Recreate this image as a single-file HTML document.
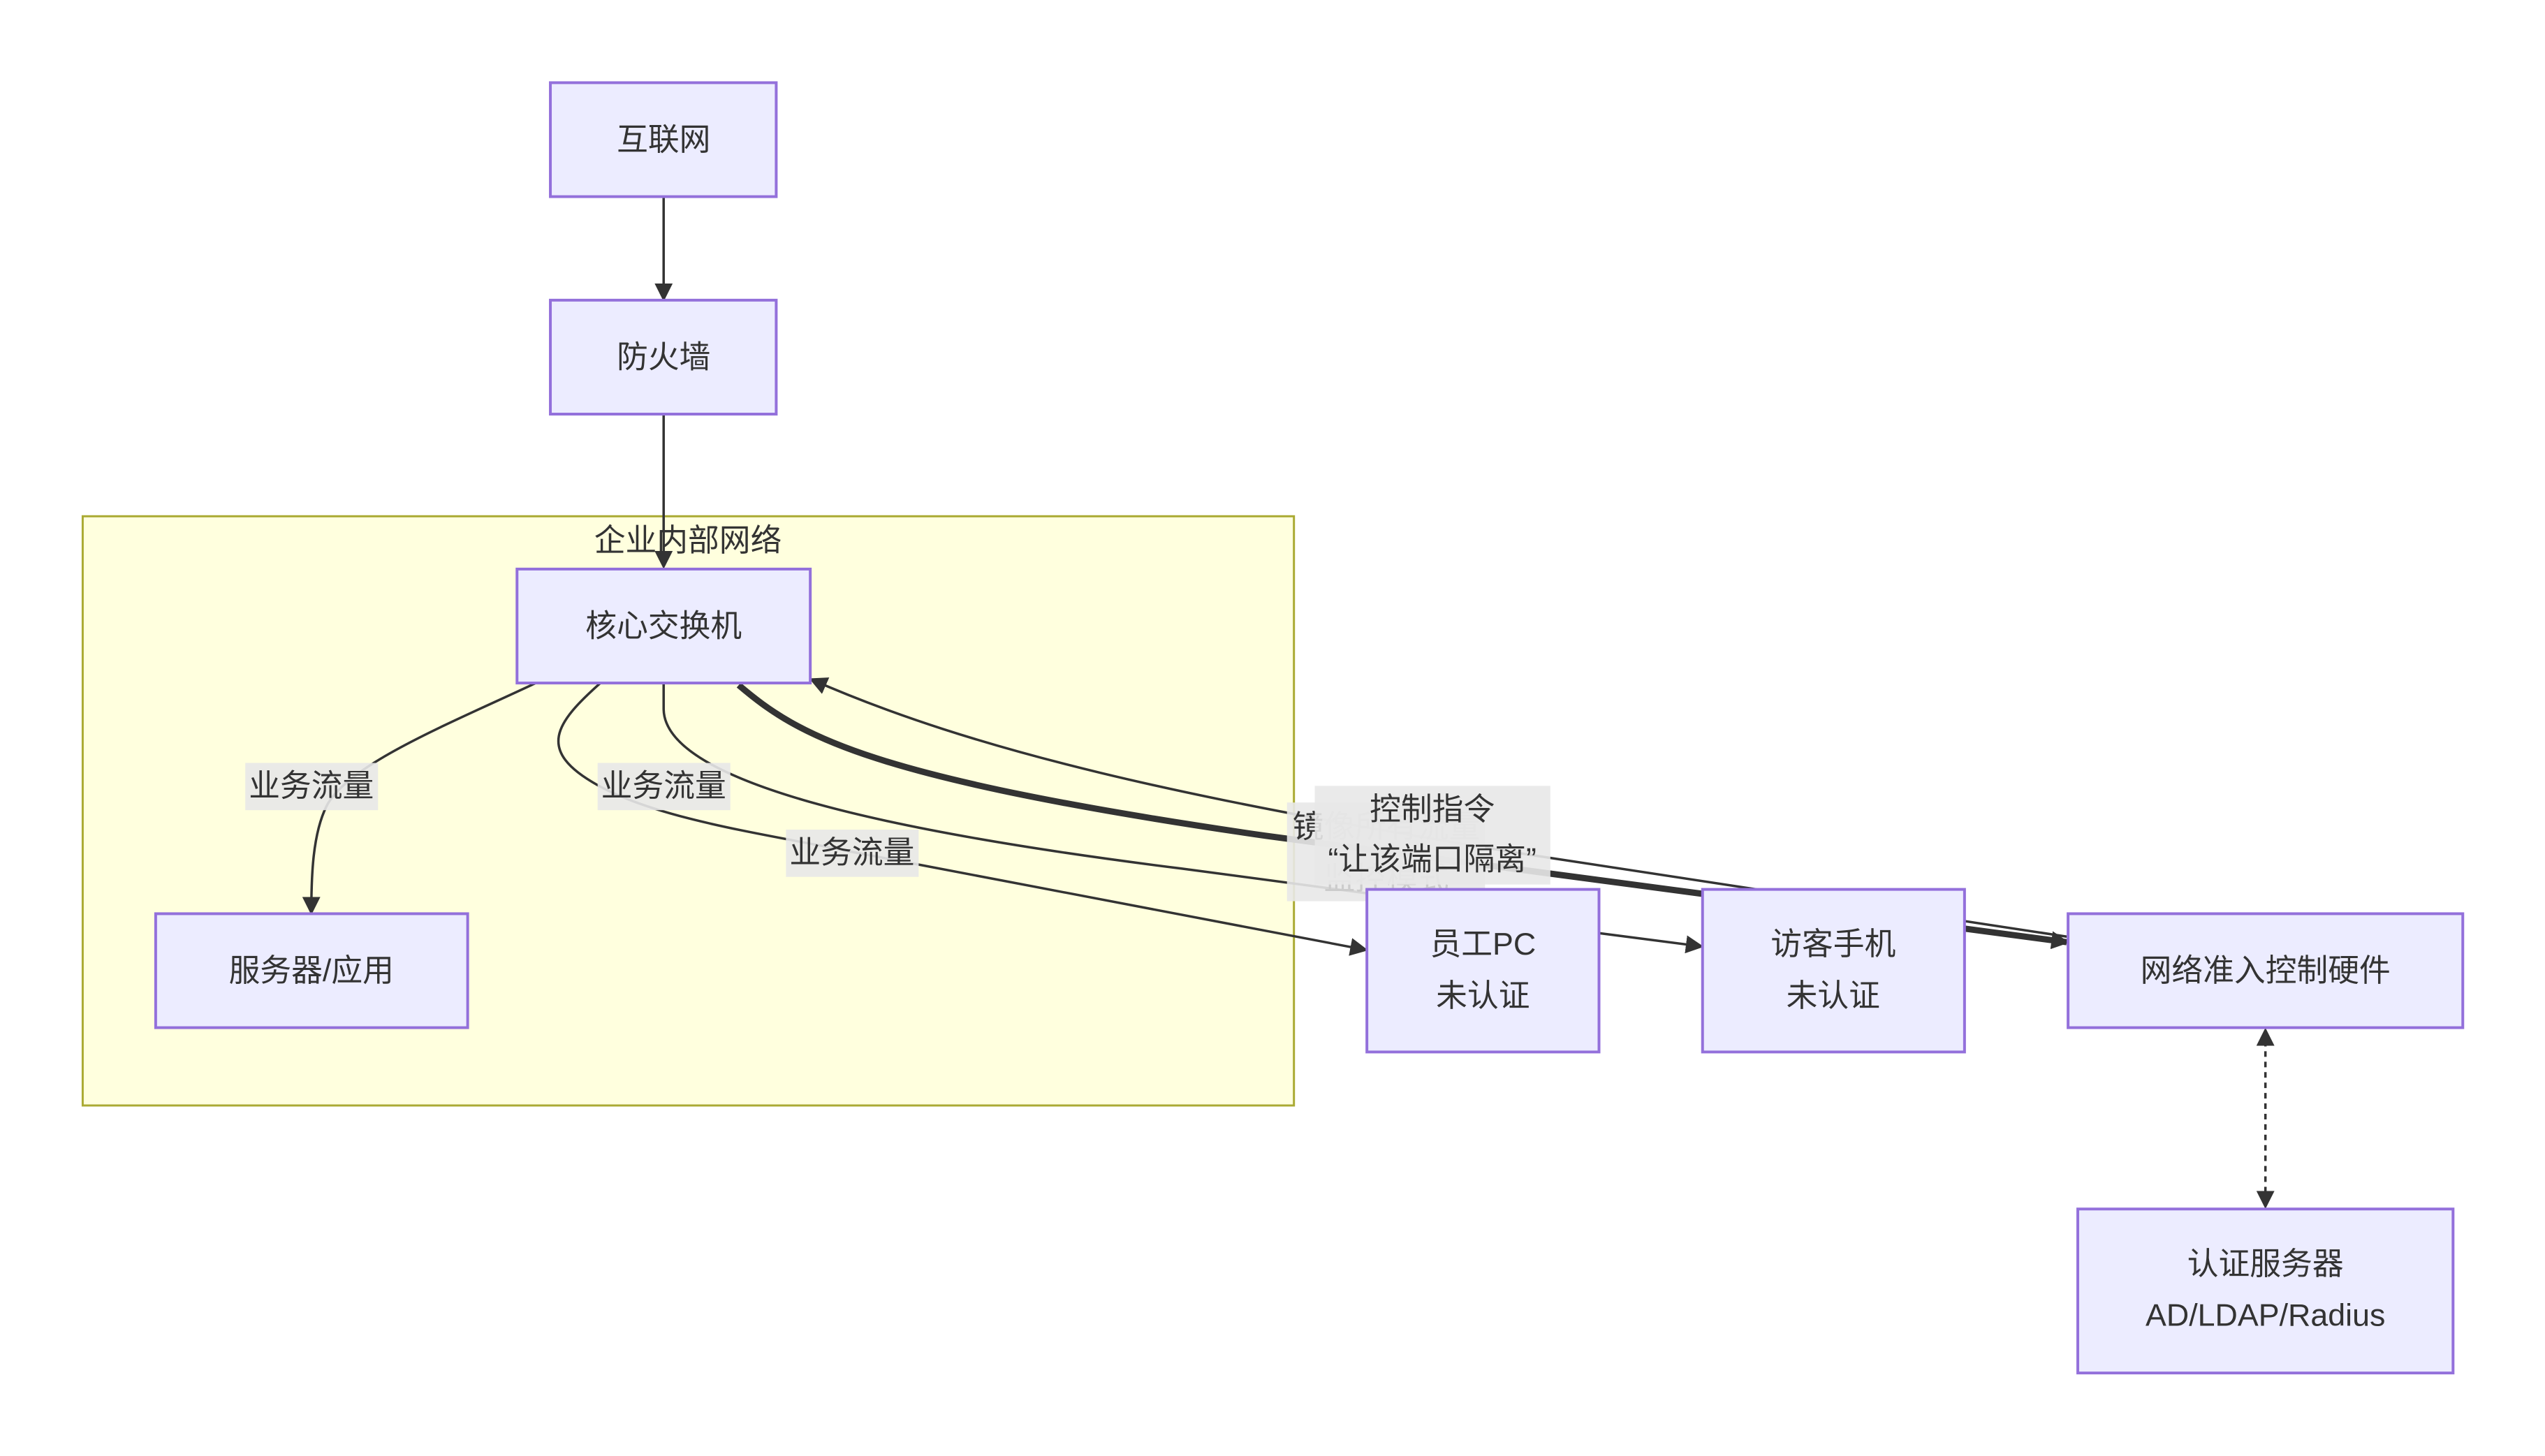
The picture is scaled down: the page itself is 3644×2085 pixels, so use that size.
<!DOCTYPE html>
<html><head><meta charset="utf-8"><style>
html,body{margin:0;padding:0;background:#fff;}
svg{display:block;}
text{font-family:"Liberation Sans","Noto Sans CJK SC",sans-serif;fill:#333;font-size:45px;}
.n{fill:#ECECFF;stroke:#9370DB;stroke-width:4;}
.e{fill:none;stroke:#333;stroke-width:3.5;}
.lb{fill:#e8e8e8;opacity:0.9;}
</style></head><body>
<svg width="3644" height="2085" viewBox="0 0 3644 2085" xmlns="http://www.w3.org/2000/svg">
<defs>
<marker id="a" markerWidth="12" markerHeight="12" refX="10" refY="6" orient="auto" markerUnits="userSpaceOnUse" viewBox="0 0 12 12"><path d="M0,0 L12,6 L0,12 z" fill="#333"/></marker>
<marker id="ab" markerWidth="26" markerHeight="26" refX="22" refY="13" orient="auto" markerUnits="userSpaceOnUse" viewBox="0 0 26 26"><path d="M0,0 L26,13 L0,26 z" fill="#333"/></marker>
<marker id="as" markerWidth="26" markerHeight="26" refX="4" refY="13" orient="auto" markerUnits="userSpaceOnUse" viewBox="0 0 26 26"><path d="M26,0 L0,13 L26,26 z" fill="#333"/></marker>
</defs>
<g transform="scale(0.995)">
<rect x="119" y="743" width="1743" height="848" fill="#ffffde" stroke="#aaaa33" stroke-width="3"/>
<text x="990" y="793" text-anchor="middle">企业内部网络</text>

<path class="e" d="M955,283 L955,430" marker-end="url(#ab)"/>
<path class="e" d="M955,596 L955,815" marker-end="url(#ab)"/>
<path class="e" d="M771,983 C650,1040 500,1100 470,1160 C450,1200 448,1260 448,1313" marker-end="url(#ab)"/>
<path class="e" d="M864,983 C800,1040 770,1080 860,1130 C950,1180 1100,1200 1226,1226 L1965,1367" marker-end="url(#ab)"/>
<path class="e" d="M955,983 L955,1020 C955,1130 1300,1200 1700,1250 L2000,1290"/>
<path class="e" d="M2301,1343 L2448,1362" marker-end="url(#ab)"/>
<path fill="none" stroke="#333" stroke-width="9" d="M1063,986 C1150,1060 1250,1120 1822,1203 L2974,1356" marker-end="url(#ab)"/>
<path class="e" d="M2974,1348 L2200,1230 C1700,1150 1400,1080 1168,978" marker-end="url(#ab)"/>
<path fill="none" stroke="#333" stroke-width="3.5" stroke-dasharray="8,7" d="M3260,1483 L3260,1736" marker-start="url(#as)" marker-end="url(#ab)"/>

<rect class="lb" x="353" y="1098" width="191" height="68"/><text x="448" y="1146" text-anchor="middle">业务流量</text>
<rect class="lb" x="860" y="1098" width="191" height="68"/><text x="955" y="1146" text-anchor="middle">业务流量</text>
<rect class="lb" x="1131" y="1194" width="191" height="68"/><text x="1226" y="1242" text-anchor="middle">业务流量</text>
<rect class="lb" x="1852" y="1155" width="285" height="142" opacity="0.7"/>
<text x="1995" y="1205" text-anchor="middle" style="fill:#333">镜<tspan style="fill:#ccc">像所有流量</tspan></text>
<text x="1995" y="1280" text-anchor="middle" style="fill:#ccc">监控模式</text>
<rect class="lb" x="1892" y="1131" width="339" height="142"/>
<text x="2061" y="1180" text-anchor="middle">控制指令</text>
<text x="2061" y="1252" text-anchor="middle">“让该端口隔离”</text>

<rect class="n" x="792" y="119" width="325" height="164"/><text x="955" y="216" text-anchor="middle">互联网</text>
<rect class="n" x="792" y="432" width="325" height="164"/><text x="955" y="529" text-anchor="middle">防火墙</text>
<rect class="n" x="744" y="819" width="422" height="164"/><text x="955" y="916" text-anchor="middle">核心交换机</text>
<rect class="n" x="224" y="1315" width="449" height="164"/><text x="448" y="1412" text-anchor="middle">服务器/应用</text>
<rect class="n" x="1967" y="1280" width="334" height="234"/><text x="2134" y="1374" text-anchor="middle">员工PC</text><text x="2134" y="1448" text-anchor="middle">未认证</text>
<rect class="n" x="2450" y="1280" width="377" height="234"/><text x="2638" y="1374" text-anchor="middle">访客手机</text><text x="2638" y="1448" text-anchor="middle">未认证</text>
<rect class="n" x="2976" y="1315" width="568" height="164"/><text x="3260" y="1412" text-anchor="middle">网络准入控制硬件</text>
<rect class="n" x="2990" y="1740" width="540" height="236"/><text x="3260" y="1834" text-anchor="middle">认证服务器</text><text x="3260" y="1908" text-anchor="middle">AD/LDAP/Radius</text>
</g>
</svg>
</body></html>
